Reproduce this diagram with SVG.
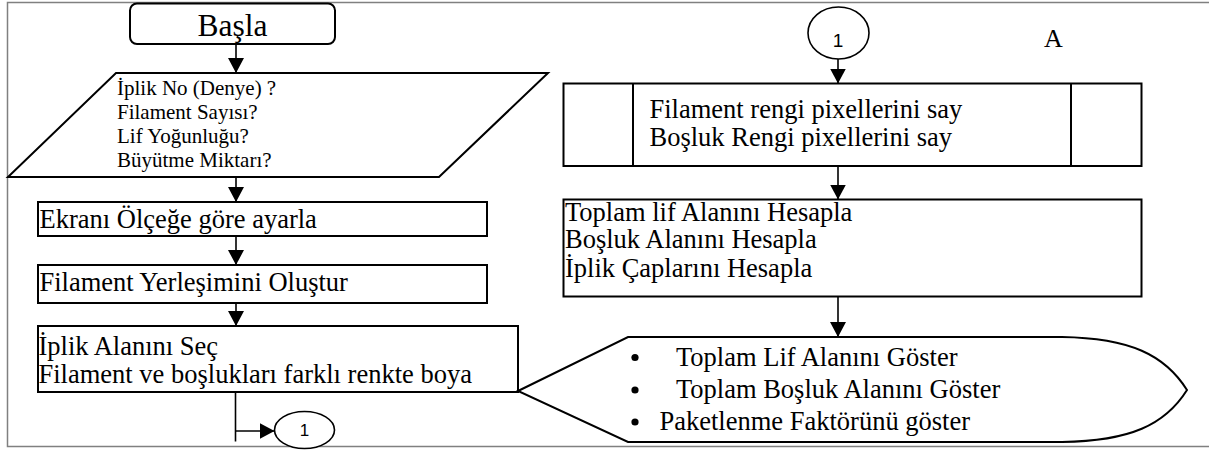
<svg xmlns="http://www.w3.org/2000/svg" width="1209" height="450" viewBox="0 0 1209 450">
<style>
.shape{fill:#fff;stroke:#000;stroke-width:2}
.conn{fill:none;stroke:#000;stroke-width:1.6}
.t{font-family:"Liberation Serif","Times New Roman",serif;font-size:26.5px;fill:#000}
.ti{font-family:"Liberation Serif","Times New Roman",serif;font-size:21px;fill:#000}
.num{font-family:"Liberation Sans",Arial,sans-serif;fill:#000;text-anchor:middle}
</style>
<defs>
<marker id="ah" markerUnits="userSpaceOnUse" markerWidth="16" markerHeight="16" refX="15" refY="8" orient="auto">
<path d="M0,0 L15,8 L0,16 Z" fill="#000"/>
</marker>
</defs>
<rect x="0" y="0" width="1209" height="450" fill="#fff"/>
<polyline points="1209,2.5 7.5,2.5 7.5,446.5 1209,446.5" fill="none" stroke="#808080" stroke-width="1.5"/>

<g id="start">
<rect class="shape" x="130" y="3.5" width="205" height="40.5" rx="7"/>
<text class="t" x="232.5" y="36" text-anchor="middle" style="font-size:31.5px">Başla</text>
</g>

<g id="input">
<polygon class="shape" points="116,73 548,73 439,177 8,177"/>
<text class="ti" x="117" y="95">İplik No (Denye) ?</text>
<text class="ti" x="117" y="119">Filament Sayısı?</text>
<text class="ti" x="117" y="142.5">Lif Yoğunluğu?</text>
<text class="ti" x="117" y="166.5">Büyütme Miktarı?</text>
</g>

<g id="scale">
<rect class="shape" x="38" y="202" width="449" height="34"/>
<text class="t" x="39.5" y="227.5">Ekranı Ölçeğe göre ayarla</text>
</g>

<g id="placement">
<rect class="shape" x="38" y="265" width="449" height="38"/>
<text class="t" x="39.5" y="290.5">Filament Yerleşimini Oluştur</text>
</g>

<g id="select">
<rect class="shape" x="38" y="326" width="480" height="66"/>
<text class="t" x="38.5" y="355">İplik Alanını Seç</text>
<text class="t" x="38.5" y="383">Filament ve boşlukları farklı renkte boya</text>
</g>

<g id="conn-bottom">
<ellipse cx="304.5" cy="430" rx="30" ry="18.5" fill="#fff" stroke="#000" stroke-width="1.6"/>
<text class="num" x="304.5" y="435.5" style="font-size:17px">1</text>
</g>

<g id="conn-top">
<ellipse cx="838.5" cy="33" rx="30.5" ry="26" fill="#fff" stroke="#000" stroke-width="1.6"/>
<text class="num" x="838" y="46.5" style="font-size:19px">1</text>
</g>

<g id="label-a">
<text class="t" x="1044" y="47" style="font-size:26px">A</text>
</g>

<g id="count">
<rect class="shape" x="563.5" y="83.5" width="578" height="82.5"/>
<line x1="633" y1="83.5" x2="633" y2="166" stroke="#000" stroke-width="2"/>
<line x1="1071" y1="83.5" x2="1071" y2="166" stroke="#000" stroke-width="2"/>
<text class="t" x="649.5" y="118">Filament rengi pixellerini say</text>
<text class="t" x="649.5" y="146">Boşluk Rengi pixellerini say</text>
</g>

<g id="compute">
<rect class="shape" x="563.5" y="199.5" width="578" height="97"/>
<text class="t" x="565" y="221">Toplam lif Alanını Hesapla</text>
<text class="t" x="565" y="248">Boşluk Alanını Hesapla</text>
<text class="t" x="565" y="277">İplik Çaplarını Hesapla</text>
</g>

<g id="display">
<path class="shape" d="M518,391 L628,337 L1062,337 C1130,338 1165,355 1187,390 C1165,425 1130,441 1062,442 L628,442 Z"/>
<circle cx="635" cy="357.5" r="3.6" fill="#000"/>
<circle cx="635" cy="390" r="3.6" fill="#000"/>
<circle cx="635" cy="422" r="3.6" fill="#000"/>
<text class="t" x="676" y="365.5">Toplam Lif Alanını Göster</text>
<text class="t" x="676" y="397.5">Toplam Boşluk Alanını Göster</text>
<text class="t" x="659.5" y="430">Paketlenme Faktörünü göster</text>
</g>

<g id="connectors">
<line class="conn" x1="236" y1="44" x2="236" y2="73" marker-end="url(#ah)"/>
<line class="conn" x1="236" y1="177" x2="236" y2="202" marker-end="url(#ah)"/>
<line class="conn" x1="236" y1="236" x2="236" y2="265" marker-end="url(#ah)"/>
<line class="conn" x1="236" y1="303" x2="236" y2="326" marker-end="url(#ah)"/>
<line class="conn" x1="235.5" y1="392" x2="235.5" y2="441.5"/>
<line class="conn" x1="235.5" y1="431" x2="274.5" y2="431" marker-end="url(#ah)"/>
<line class="conn" x1="838" y1="59" x2="838" y2="83.5" marker-end="url(#ah)"/>
<line class="conn" x1="838" y1="166" x2="838" y2="199.5" marker-end="url(#ah)"/>
<line class="conn" x1="838" y1="296.5" x2="838" y2="337" marker-end="url(#ah)"/>
</g>
</svg>
